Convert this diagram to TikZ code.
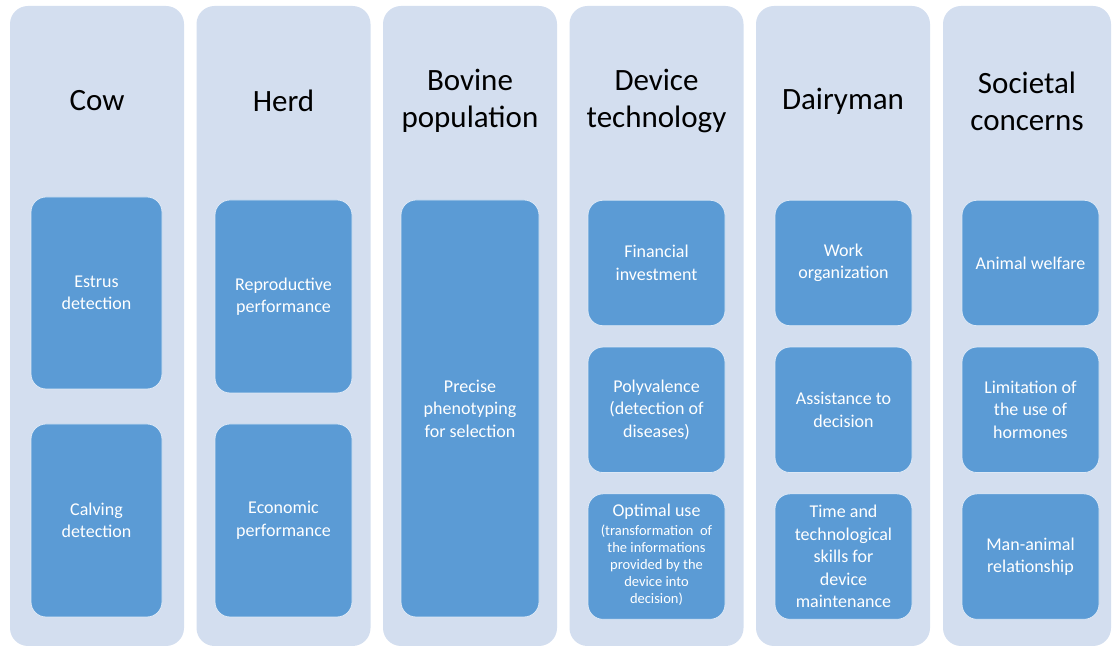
\documentclass[tikz,border=0pt]{standalone}
\usepackage{fontspec}
\setmainfont{Carlito}
\usetikzlibrary{positioning}

\definecolor{colbg}{RGB}{211,222,239}
\definecolor{itemblue}{RGB}{91,155,213}
\definecolor{itemline}{RGB}{220,232,246}

\begin{document}
\begin{tikzpicture}[x=1pt, y=1pt,
        columnbox/.style={rectangle, rounded corners=18pt, fill=colbg, draw=none, minimum width=174pt, minimum height=640pt},
        headtext/.style={align=center, text=black, font=\fontsize{31}{37}\selectfont},
        itembox/.style={rectangle, rounded corners=15pt, fill=itemblue, draw=itemline, line width=0.8pt, text=white, align=center, font=\fontsize{18}{22.5}\selectfont, minimum width=137pt},
        smallbox/.style={itembox, minimum height=125.5pt},
        node distance=20.5pt,
]
        \useasboundingbox (0,0) rectangle (1112,648);

        % background columns
        \node[columnbox] (cow) at (97,322) {};
        \node[columnbox] (herd) at (283.5,322) {};
        \node[columnbox] (bovine) at (470,322) {};
        \node[columnbox] (device) at (656.5,322) {};
        \node[columnbox] (dairyman) at (843,322) {};
        \node[columnbox, minimum width=168pt] (societal) at (1027,322) {};

        % column titles
        \node[headtext] (cowtitle) at (cow |- 0,547) {Cow};
        \node[headtext] (herdtitle) at (herd |- 0,547) {Herd};
        \node[headtext] (bovinetitle) at (bovine |- 0,547) {Bovine\\population};
        \node[headtext] (devicetitle) at (device |- 0,547) {Device\\technology};
        \node[headtext] (dairymantitle) at (dairyman |- 0,547) {Dairyman};
        \node[headtext] (societaltitle) at (societal |- 0,547) {Societal\\concerns};

        % cow
        \node[itembox, minimum width=131pt, minimum height=192pt] (estrus) at (96.5,355) {Estrus\\detection};
        \node[itembox, minimum width=131pt, minimum height=193pt] (calving) at (96.5,127.5) {Calving\\detection};

        % herd
        \node[itembox, minimum height=193pt] (reproductive) at (283.5,351.5) {Reproductive\\performance};
        \node[itembox, minimum height=193pt] (economic) at (283.5,127.5) {Economic\\performance};

        % bovine population
        \node[itembox, minimum width=138pt, minimum height=417pt] (phenotyping) at (470,239.5) {Precise\\phenotyping\\for selection};

        % device technology
        \node[smallbox] (investment) at (656.5,385) {Financial\\investment};
        \node[smallbox] (polyvalence) [below=of investment] {Polyvalence\\(detection of\\diseases)};
        \node[smallbox, inner sep=2pt] (optimal) [below=of polyvalence] {Optimal use\\[3pt]{\fontsize{14.5}{17}\selectfont\begin{tabular}{@{}c@{}}(transformation~ of\\the informations\\provided by the\\device into\\decision)\end{tabular}}};

        % dairyman
        \node[smallbox] (work) at (843.5,385) {Work\\organization};
        \node[smallbox] (assistance) [below=of work] {Assistance to\\decision};
        \node[smallbox] (maintenance) [below=of assistance] {Time and\\technological\\skills for\\device\\maintenance};

        % societal concerns
        \node[smallbox] (welfare) at (1030.5,385) {Animal welfare};
        \node[smallbox] (hormones) [below=of welfare] {Limitation of\\the use of\\hormones};
        \node[smallbox] (relationship) [below=of hormones] {Man-animal\\relationship};
\end{tikzpicture}
\end{document}
